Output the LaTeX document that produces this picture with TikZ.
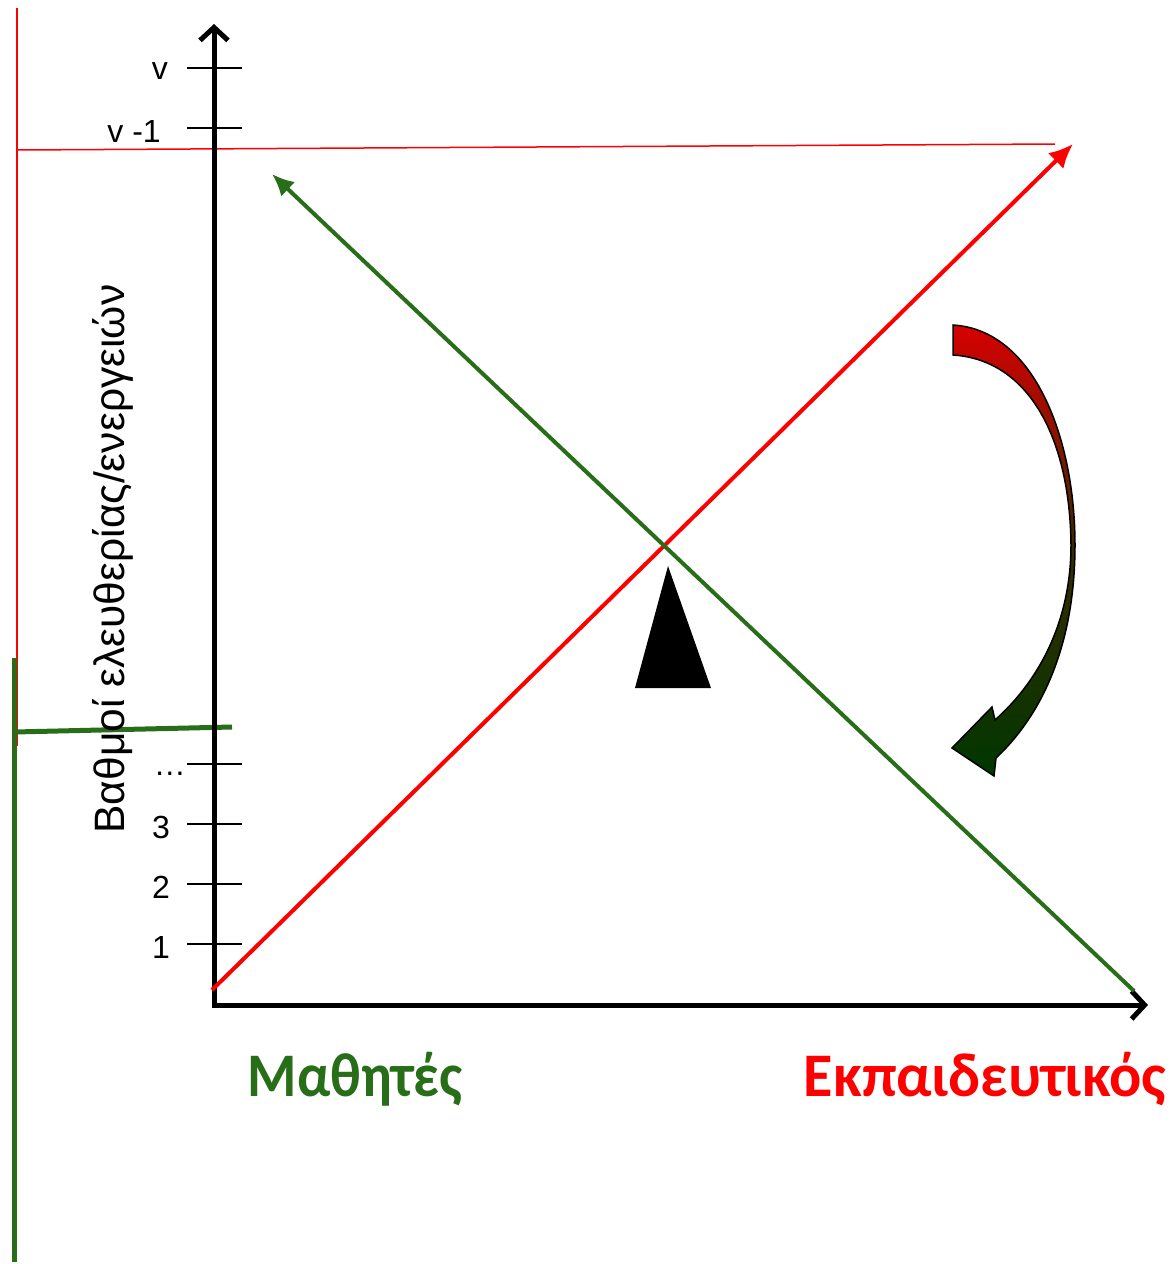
\documentclass[tikz,border=0pt]{standalone}
\usepackage{fontspec}
\setmainfont{Liberation Sans}
\newfontfamily\labfont{Carlito}
\usetikzlibrary{arrows.meta}
\definecolor{mygreen}{RGB}{40,110,25}
\definecolor{darkgr}{RGB}{0,55,0}
\definecolor{curvred}{RGB}{215,0,0}
\tikzset{
  axis/.style={line width=5pt,-{Straight Barb[length=13pt,width=28pt,line width=5pt]}},
  tick/.style={line width=2pt},
  ticklab/.style={anchor=east,font=\fontsize{32}{36}\selectfont,inner sep=0pt},
  redln/.style={red,line width=4pt,-{Latex[length=24pt,width=22pt]}},
  grnln/.style={mygreen,line width=4pt,-{Latex[length=22pt,width=20pt]}},
  bigl/.style={font=\labfont\bfseries\fontsize{62}{66}\selectfont,inner sep=0pt}
}
\begin{document}
\begin{tikzpicture}[x=1pt,y=-1pt]
\useasboundingbox (0,0) rectangle (1174,1264);
% left guide lines
\coordinate (rv1) at (17,8); \coordinate (rv2) at (17,746);
\coordinate (rh1) at (17,150); \coordinate (rh2) at (1055,144);
\draw[red,line width=1.5pt] (rv1) -- (rv2);
\draw[red,line width=1.5pt] (rh1) -- (rh2);
\coordinate (gv1) at (14,658); \coordinate (gv2) at (14,1262);
\coordinate (gh1) at (14,732); \coordinate (gh2) at (232,727);
\draw[mygreen,line width=5pt] (gv1) -- (gv2);
\draw[mygreen,line width=5pt] (gh1) -- (gh2);
% axes
\coordinate (O) at (214,1005);
\coordinate (Ytop) at (214,24);
\coordinate (Xend) at (1148,1005);
\draw[axis] (214,1007.5) -- (Ytop);
\draw[axis] (211.5,1005) -- (Xend);
% ticks
\foreach \y/\lab/\nm/\xe in {68/v/tv/168,128/{v -1}/tvm/161,824/3/t3/170,884/2/t2/170,944/1/t1/170}{
  \coordinate (\nm a) at (187,\y); \coordinate (\nm b) at (242,\y);
  \draw[tick] (\nm a) -- (\nm b);
  \node[ticklab] (\nm l) at (\xe,\y+3) {\lab};
}
\coordinate (tda) at (187,764); \coordinate (tdb) at (242,764);
\draw[tick] (tda) -- (tdb);
\node[ticklab] (tdl) at (186,774) {…};
% y label
\node[rotate=90,font=\fontsize{42.5}{46}\selectfont,inner sep=0pt] (ylab) at (113,559) {Βαθμοί ελευθερίας/ενεργειών};
% diagonal lines
\coordinate (r1) at (212,990); \coordinate (r2) at (1073,144);
\coordinate (g1) at (1134,991); \coordinate (g2) at (272,174);
\draw[redln] (r1) -- (r2);
\draw[grnln] (g1) -- (g2);
% fulcrum triangle
\fill (668,566) -- (711,688) -- (635,688) -- cycle;
% curved arrow
\shade[top color=curvred,bottom color=darkgr,middle color=darkgr!30!black!10!red!60!green!40!black,draw=black,line width=1.5pt]
 (953,325) .. controls (1035,330) and (1075,440) .. (1075,545)
 .. controls (1075,640) and (1045,712) .. (996,758)
 -- (994,776) -- (952,748) -- (992,707) -- (995,720)
 .. controls (1040,680) and (1071,620) .. (1071,545)
 .. controls (1070,440) and (1030,360) .. (953,355) -- cycle;
% labels
\node[bigl,mygreen,xscale=0.91] (stud) at (355,1079) {Μαθητές};
\node[bigl,red,xscale=0.97] (teach) at (985,1079) {Εκπαιδευτικός};
\end{tikzpicture}
\end{document}
